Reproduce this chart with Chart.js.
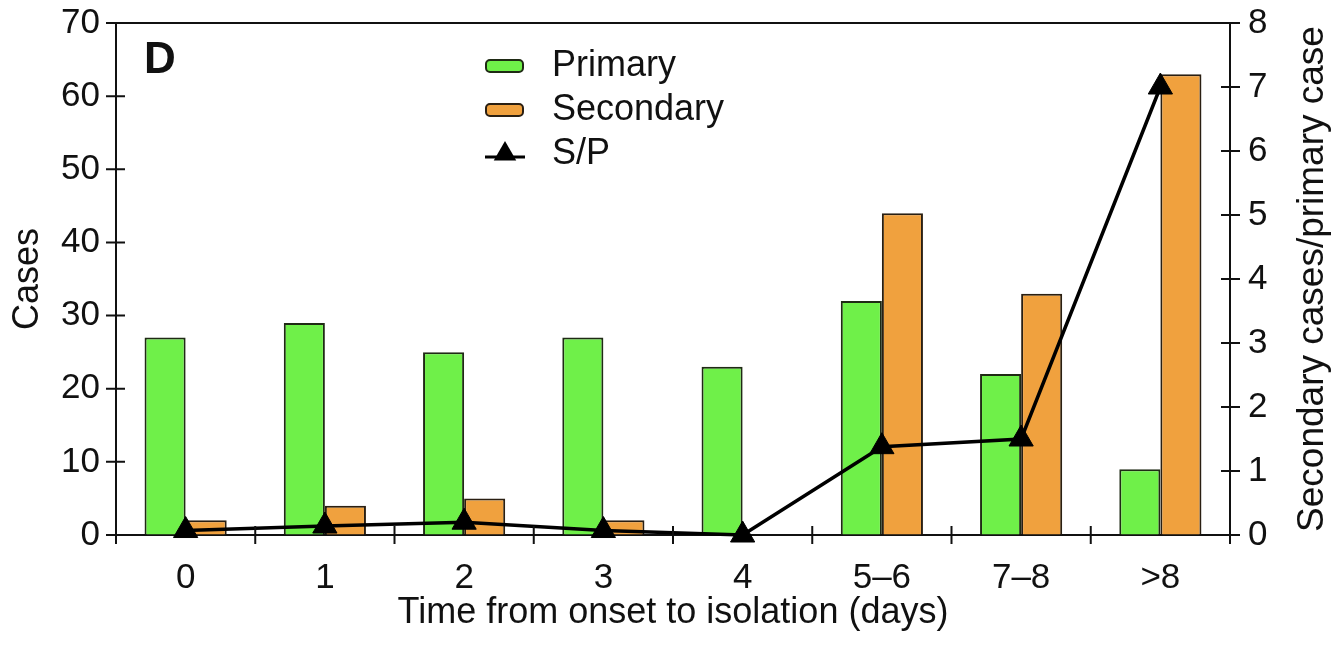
<!DOCTYPE html>
<html>
<head>
<meta charset="utf-8">
<script src="https://cdn.jsdelivr.net/npm/chart.js@4.4.1/dist/chart.umd.min.js"></script>
<style>
  html, body { margin: 0; padding: 0; background: #fff; }
  #wrap { width: 1332px; height: 645px; position: relative; }
</style>
</head>
<body>
<div id="wrap"><canvas id="chart"></canvas></div>
<script>
// days from onset to isolation
const categories = ['0', '1', '2', '3', '4', '5–6', '7–8', '>8'];
const primaryCases = [27, 29, 25, 27, 23, 32, 22, 9];
const secondaryCases = [2, 4, 5, 2, 0, 44, 33, 63];
// secondary cases per primary case
const ratioSP = [0.07, 0.14, 0.2, 0.07, 0, 1.38, 1.5, 7.0];
const caseTicks = [0, 10, 20, 30, 40, 50, 60, 70];
const ratioTicks = [0, 1, 2, 3, 4, 5, 6, 7, 8];

const FONT = '"Liberation Sans", Arial, Helvetica, sans-serif';
const INK = '#111';

// tick marks that cross the axis lines, plus the top frame line
const axisTicks = {
    id: 'axisTicks',
    afterDraw(chart) {
        const { ctx, chartArea: a, scales } = chart;
        const h = 9;
        ctx.save();
        ctx.strokeStyle = INK;
        ctx.lineWidth = 2;
        ctx.beginPath();
        ctx.moveTo(a.left, a.top);
        ctx.lineTo(a.right, a.top);
        scales.y.ticks.forEach(t => {
            const y = scales.y.getPixelForValue(t.value);
            ctx.moveTo(a.left - h - 1, y);
            ctx.lineTo(a.left + h, y);
        });
        scales.y1.ticks.forEach(t => {
            const y = scales.y1.getPixelForValue(t.value);
            ctx.moveTo(a.right - h, y);
            ctx.lineTo(a.right + h + 1, y);
        });
        for (let i = 0; i <= categories.length; i++) {
            const x = scales.x.getPixelForValue(i - 0.5);
            ctx.moveTo(x, a.bottom - h);
            ctx.lineTo(x, a.bottom + h);
        }
        ctx.stroke();
        ctx.restore();
    }
};

function triangle(ctx, x, y, r) {
    ctx.beginPath();
    ctx.moveTo(x, y - r);
    ctx.lineTo(x + r * 0.866, y + r * 0.5);
    ctx.lineTo(x - r * 0.866, y + r * 0.5);
    ctx.closePath();
    ctx.fill();
}

// legend sitting inside the plot, the panel letter and the right axis title
const insideLegend = {
    id: 'insideLegend',
    afterDraw(chart, args, opts) {
        const { ctx, chartArea: a } = chart;
        ctx.save();
        ctx.textBaseline = 'middle';
        ctx.font = `bold ${opts.letterSize}px ${FONT}`;
        ctx.fillStyle = INK;
        ctx.fillText(opts.letter, opts.letterX, opts.letterY);

        // right title reads bottom-to-top, like the left one
        ctx.save();
        ctx.translate(opts.rightTitleX, (a.top + a.bottom) / 2);
        ctx.rotate(-Math.PI / 2);
        ctx.textAlign = 'center';
        ctx.font = `37px ${FONT}`;
        ctx.fillText(opts.rightTitle, 0, 0);
        ctx.restore();

        ctx.font = `${opts.fontSize}px ${FONT}`;
        chart.data.datasets.forEach((ds, i) => {
            const x = opts.x;
            const y = opts.y + i * opts.rowGap;
            if (ds.type === 'line') {
                ctx.strokeStyle = ds.borderColor;
                ctx.lineWidth = 3;
                ctx.beginPath();
                ctx.moveTo(x, y + 3);
                ctx.lineTo(x + 40, y + 3);
                ctx.stroke();
                ctx.fillStyle = ds.pointBackgroundColor;
                triangle(ctx, x + 20, y, 13);
            } else {
                ctx.beginPath();
                ctx.roundRect(x + 1, y - 6, 37, 12, 4);
                ctx.fillStyle = ds.backgroundColor;
                ctx.fill();
                ctx.lineWidth = 2;
                ctx.strokeStyle = ds.borderColor;
                ctx.stroke();
            }
            ctx.fillStyle = INK;
            ctx.fillText(ds.label, x + 67, y);
        });
        ctx.restore();
    }
};

const tickFont = { family: FONT, size: 35 };
const titleFont = { family: FONT, size: 36, lineHeight: 1 };

// fixed box sizes so the plot area lands where it should
function fixWidth(w) {
    return s => { s.width = w; s.paddingTop = 0; s.paddingBottom = 0; };
}

new Chart(document.getElementById('chart'), {
    data: {
        labels: categories,
        datasets: [
            {
                type: 'bar',
                label: 'Primary',
                data: primaryCases,
                yAxisID: 'y',
                backgroundColor: '#6ff049',
                borderColor: '#1f2a14',
                borderWidth: 2,
                categoryPercentage: 0.59,
                barPercentage: 1.0,
                order: 1
            },
            {
                type: 'bar',
                label: 'Secondary',
                data: secondaryCases,
                yAxisID: 'y',
                backgroundColor: '#f0a13e',
                borderColor: '#2a1f12',
                borderWidth: 2,
                categoryPercentage: 0.59,
                barPercentage: 1.0,
                order: 1
            },
            {
                type: 'line',
                label: 'S/P',
                data: ratioSP,
                yAxisID: 'y1',
                borderColor: '#000',
                borderWidth: 3.5,
                tension: 0,
                pointStyle: 'triangle',
                pointRadius: 14,
                pointHoverRadius: 14,
                pointBackgroundColor: '#000',
                pointBorderColor: '#000',
                pointBorderWidth: 1,
                clip: false,
                order: 0
            }
        ]
    },
    options: {
        responsive: true,
        maintainAspectRatio: false,
        animation: false,
        layout: { padding: { top: 23, left: 0, right: 0, bottom: 0 } },
        plugins: {
            legend: { display: false },
            tooltip: { enabled: false },
            insideLegend: {
                x: 485, y: 66, rowGap: 44, fontSize: 36,
                letter: 'D', letterX: 144, letterY: 61, letterSize: 44,
                rightTitle: 'Secondary cases/primary case', rightTitleX: 1313
            }
        },
        scales: {
            x: {
                type: 'category',
                offset: true,
                grid: { drawOnChartArea: false, drawTicks: false },
                border: { display: true, color: INK, width: 2 },
                ticks: { font: tickFont, color: INK, padding: 22, maxRotation: 0, autoSkip: false },
                title: {
                    display: true, text: 'Time from onset to isolation (days)',
                    font: titleFont, color: INK, padding: { top: 0, bottom: 14 }
                },
                afterFit(s) { s.height = 110; s.paddingLeft = 0; s.paddingRight = 0; }
            },
            y: {
                position: 'left',
                min: 0, max: 70,
                afterBuildTicks(s) { s.ticks = caseTicks.map(v => ({ value: v })); },
                grid: { drawOnChartArea: false, drawTicks: false },
                border: { display: true, color: INK, width: 2 },
                ticks: { font: tickFont, color: INK, padding: 16 },
                title: {
                    display: true, text: 'Cases',
                    font: titleFont, color: INK, padding: { top: 10, bottom: 0 }
                },
                afterFit: fixWidth(116)
            },
            y1: {
                position: 'right',
                min: 0, max: 8,
                afterBuildTicks(s) { s.ticks = ratioTicks.map(v => ({ value: v })); },
                grid: { drawOnChartArea: false, drawTicks: false },
                border: { display: true, color: INK, width: 2 },
                ticks: { font: tickFont, color: INK, padding: 18 },
                afterFit: fixWidth(102)
            }
        }
    },
    plugins: [axisTicks, insideLegend]
});
</script>
</body>
</html>
